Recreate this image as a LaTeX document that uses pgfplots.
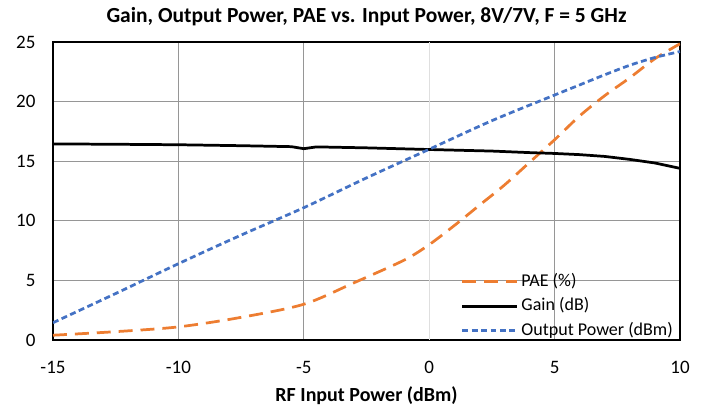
\documentclass[border=0pt]{standalone}
\usepackage{pgfplots}
\pgfplotsset{compat=1.18}
\usetikzlibrary{calc}
\usepackage{fontspec}
\setmainfont{Carlito}
\definecolor{paeorange}{RGB}{237,125,49}
\definecolor{poutblue}{RGB}{68,114,196}
\definecolor{gridgray}{RGB}{150,150,150}
\begin{document}
\begin{tikzpicture}
\begin{axis}[
  name=main,
  scale only axis,
  width=627bp, height=298bp,
  xmin=-15, xmax=10, ymin=0, ymax=25,
  xtick={-15,-10,...,10}, ytick={0,5,...,25},
  /pgf/number format/assume math mode=true,
  tick label style={font=\fontsize{19bp}{22bp}\selectfont},
  xticklabel style={yshift=-18bp},
  yticklabel style={xshift=-14bp},
  major tick length=0pt,
  axis line style={black, line width=2.5pt},
  grid=major,
  major grid style={gridgray, line width=1pt},
  title={\bfseries Gain, Output Power, PAE vs. Input Power, 8V/7V, F = 5 GHz},
  title style={font=\fontsize{21.5bp}{24bp}\selectfont, at={(0.5,1)}, anchor=center, yshift=19bp},
  xlabel={\bfseries RF Input Power (dBm)},
  xlabel style={font=\fontsize{20bp}{23bp}\selectfont, at={(0.5,0)}, anchor=center, yshift=-56bp},
  legend style={draw=none, fill=none, inner sep=0pt, at={(0.65,0.225)}, anchor=north west,
    font=\fontsize{18bp}{21bp}\selectfont, row sep=7.5bp, column sep=3bp,
    nodes={inner sep=0pt, text height=13bp, text depth=4bp}},
  legend cell align=left,
  legend image code/.code={\draw[#1] (0bp,0bp) -- (55bp,0bp);},
]
\draw[white!75!gray, line width=1pt] (axis cs:0,0) -- (axis cs:0,25);
\addplot[paeorange, line width=2.75pt, dash pattern=on 14pt off 8pt, smooth] coordinates {
(-15,0.4) (-12.5,0.7) (-10,1.1) (-7.5,1.9) (-5,3.0) (-3,4.8) (-1,6.7) (0,8.0) (1,9.6) (2,11.3) (3,13.0) (4,14.9) (5,16.8) (6,18.8) (7,20.5) (8,22.0) (9,23.6) (10,24.85)};
\addlegendentry{PAE (\%)}
\addplot[black, line width=2.75pt] coordinates {
(-15,16.45) (-12.5,16.42) (-10,16.38) (-7.5,16.3) (-5.5,16.22) (-5,16.05) (-4.5,16.2) (-2.5,16.12) (0,15.98) (2.5,15.85) (4,15.72) (5,15.65) (6,15.55) (7,15.4) (8,15.15) (9,14.85) (10,14.4)};
\addlegendentry{Gain (dB)}
\addplot[poutblue, line width=2.75pt, dash pattern=on 6pt off 3.5pt, smooth] coordinates {
(-15,1.45) (-12.5,3.9) (-10,6.4) (-7.5,8.8) (-5,11.1) (-2.5,13.6) (0,16.0) (2.5,18.4) (5,20.55) (6,21.4) (7,22.25) (8,23.05) (9,23.7) (10,24.2)};
\addlegendentry{Output Power (dBm)}
\end{axis}
\path ($(main.south west)+(-53bp,-68bp)$) rectangle ($(main.north east)+(26bp,42bp)$);
\end{tikzpicture}
\end{document}
